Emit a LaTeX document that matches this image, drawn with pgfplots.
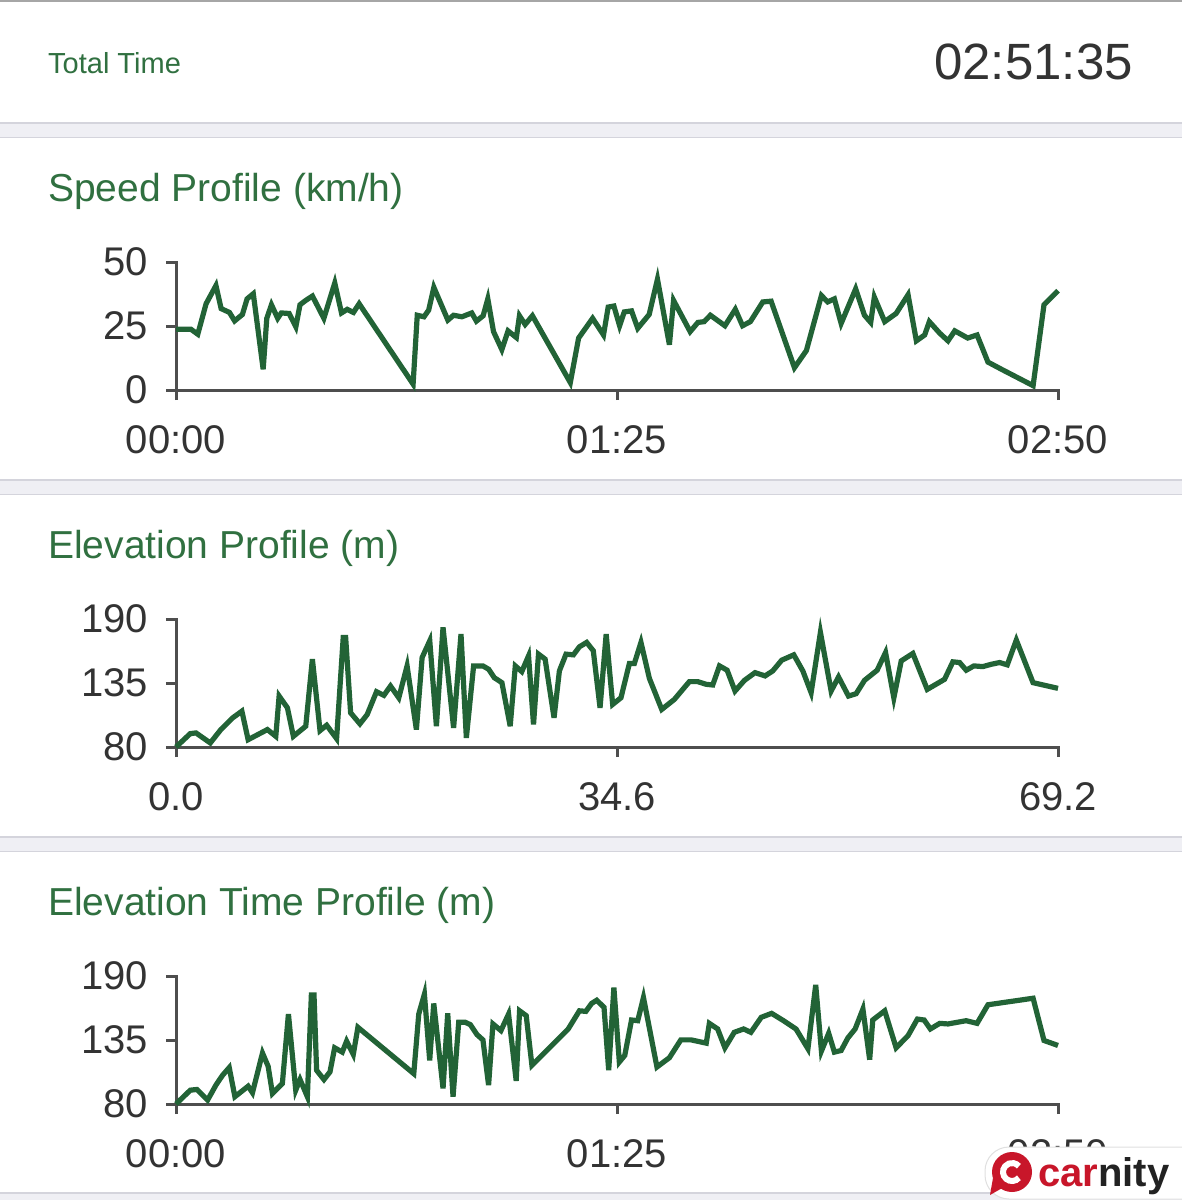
\documentclass[border=0pt]{standalone}
\usepackage{fontspec}
\setmainfont{Liberation Sans}
\usepackage{pgfplots}
\pgfplotsset{compat=1.18}
\definecolor{linegreen}{RGB}{34,99,54}
\definecolor{titlegreen}{RGB}{48,112,64}
\definecolor{axisgray}{RGB}{78,78,78}
\definecolor{labelgray}{RGB}{51,51,51}
\definecolor{band}{RGB}{239,239,244}
\definecolor{bandline}{RGB}{212,212,220}
\definecolor{logored}{RGB}{200,22,42}
\definecolor{logodark}{RGB}{34,34,34}
\pgfplotsset{
  prof/.style={
    scale only axis, width=882pt, height=128pt,
    axis x line*=bottom, axis y line*=left,
    axis line style={draw=axisgray, line width=3pt, line cap=rect},
    every tick/.style={draw=axisgray, line width=3pt},
    major tick length=10pt,
    tick align=outside,
    xtick pos=bottom, ytick pos=left,
    clip=false,
    xticklabel style={font=\fontsize{40}{40}\selectfont, text=labelgray, inner sep=0pt, anchor=north, yshift=-25pt},
    yticklabel style={font=\fontsize{40}{40}\selectfont, text=labelgray, inner sep=0pt, anchor=east, xshift=-18pt},
  },
  prof line/.style={color=linegreen, line width=5.2pt, miter limit=7, no markers},
}
\begin{document}
\begin{tikzpicture}
\begin{scope}[x=1pt,y=-1pt]
\fill[white] (0,0) rectangle (1182,1200);
\fill[gray!70] (0,0) rectangle (1182,2);
% separator bands
\foreach \a/\b in {123/137, 480/494, 837/851, 1193/1200}{
  \fill[band] (0,\a) rectangle (1182,\b);
  \draw[bandline, line width=1.5pt] (0,\a) -- (1182,\a);
  \draw[bandline, line width=1pt] (0,\b) -- (1182,\b);
}
\node[anchor=base west, inner sep=0pt, text=titlegreen, font=\fontsize{29}{30}\selectfont] at (48,73) {Total Time};
\node[anchor=base east, inner sep=0pt, text=labelgray, font=\fontsize{51}{52}\selectfont] at (1133,79) {02:51:35};
\node[anchor=base west, inner sep=0pt, text=titlegreen, font=\fontsize{39}{40}\selectfont] at (48,201) {Speed Profile (km/h)};
\node[anchor=base west, inner sep=0pt, text=titlegreen, font=\fontsize{39}{40}\selectfont] at (48,558) {Elevation Profile (m)};
\node[anchor=base west, inner sep=0pt, text=titlegreen, font=\fontsize{39}{40}\selectfont] at (48,915) {Elevation Time Profile (m)};
\end{scope}

% Speed profile
\begin{axis}[prof, at={(176pt,-390pt)}, anchor=south west,
  xmin=0, xmax=170, ymin=0, ymax=50,
  xtick={0,85,170}, xticklabels={00:00,01:25,02:50},
  ytick={0,25,50}, yticklabels={0,25,50}]
\addplot[prof line] coordinates {
(0,23.7) (2.9,23.7) (4.2,21.8) (5.8,33.7) (7.7,40.8) (8.7,31.8) (10.3,30.3) (11.3,27) (12.8,29.5) (13.7,35.6) (14.9,37.6) (16.8,8.1) (17.5,28) (18.4,33.3) (19.6,28) (20.3,30.1) (21.8,29.9) (23.1,24.7) (23.9,33.3) (25.0,35) (26.3,36.7) (28.5,28) (30.6,41.8) (31.9,30.1) (33.0,31.5) (34.2,30.3) (35.3,33.7) (45.7,2.3) (46.5,29.2) (47.8,28.6) (48.7,31.2) (49.7,40.1) (52.4,27.3) (53.5,29.2) (55.1,28.6) (57.0,30.1) (57.9,26.9) (59.2,29) (60.1,35.6) (61.2,22.8) (62.8,15.8) (64.0,23.1) (65.6,20.5) (66.2,29) (67.3,25.6) (68.7,29) (76.0,2.9) (77.6,20.3) (80.3,28) (82.4,21.5) (83.3,32.4) (84.4,32.8) (85.5,25.1) (86.4,30.5) (87.8,30.9) (89.0,24.1) (91.2,29.5) (92.8,43.3) (95.1,17.7) (95.9,35) (99.1,22.8) (100.6,26.4) (101.8,26.7) (103.0,29.2) (104.3,27.3) (105.8,25.1) (107.8,31.5) (109.2,25.1) (110.7,26.7) (113.1,34.4) (114.7,34.7) (119.2,8.7) (121.5,15.4) (124.4,36.9) (125.6,34.4) (126.9,35.6) (128.2,26) (131.0,39.5) (132.7,29.2) (133.9,26.4) (134.6,36.3) (136.6,26.7) (138.8,29.9) (141.1,37.2) (142.7,19.2) (144.3,21.5) (145.2,26.7) (147.2,22.2) (148.8,19.2) (150.1,23.1) (152.6,20.3) (154.4,21.5) (156.5,10.9) (159.1,8.1) (165.2,1.7) (167.3,33.3) (170,38.8)
};
\end{axis}

% Elevation profile
\begin{axis}[prof, at={(176pt,-747pt)}, anchor=south west,
  xmin=0, xmax=69.2, ymin=80, ymax=190,
  xtick={0,34.6,69.2}, xticklabels={0.0,34.6,69.2},
  ytick={80,135,190}, yticklabels={80,135,190}]
\addplot[prof line] coordinates {
(0,80) (1.12,91.5) (1.57,92.1) (2.69,83.5) (3.52,95) (4.44,105) (5.17,110.8) (5.66,86.3) (7.17,95) (7.83,89.2) (8.09,123.8) (8.74,113.7) (9.21,89.2) (10.18,97.9) (10.70,155.5) (11.30,94.1) (11.82,98.7) (12.60,87.2) (13.12,174.2) (13.31,174.2) (13.70,109.4) (14.43,99.9) (15.0,107.9) (15.73,127.5) (16.31,124.4) (16.83,132.4) (17.48,122.3) (18.13,149.7) (18.86,95) (19.31,156.9) (19.91,171.3) (20.43,97.9) (20.95,182.8) (21.78,96.4) (22.36,177.1) (22.78,87.8) (23.35,149.7) (24.08,149.7) (24.53,146.8) (24.97,139.6) (25.57,135.3) (26.22,97.9) (26.62,149.7) (27.13,144.8) (27.66,158.3) (28.05,99.3) (28.44,159.8) (28.96,155.5) (29.66,105.1) (30.08,145.4) (30.6,159.8) (31.18,159.2) (31.65,166.1) (32.22,169.9) (32.74,162.7) (33.27,113.7) (33.75,177.1) (34.26,116.6) (34.91,122.3) (35.57,151.7) (35.96,151.7) (36.48,169.9) (37.14,139) (38.11,112.3) (39.1,120.9) (39.76,129.5) (40.28,136.2) (40.93,136.2) (41.59,133.9) (42.11,133.3) (42.64,149.7) (43.24,146) (43.86,128.1) (44.6,137.3) (45.43,143.9) (46.22,141.1) (46.82,145.4) (47.52,154.6) (48.47,159.2) (49.18,145.4) (49.83,126.7) (50.56,178.5) (51.4,128.1) (51.98,140.2) (52.76,123.8) (53.36,125.8) (54.02,137.3) (55.01,146) (55.67,161.2) (56.32,122.3) (56.9,154) (57.81,160.4) (58.94,129.5) (60.3,138.2) (60.95,153.2) (61.48,152.6) (62.0,146) (62.6,149.7) (63.3,149.1) (63.97,151.1) (64.62,152.6) (65.22,150.6) (65.93,171.9) (67.24,135.3) (69.2,130.4)
};
\end{axis}

% Elevation time profile
\begin{axis}[prof, at={(176pt,-1104pt)}, anchor=south west,
  xmin=0, xmax=170, ymin=80, ymax=190,
  xtick={0,85,170}, xticklabels={00:00,01:25,02:50},
  ytick={80,135,190}, yticklabels={80,135,190}]
\addplot[prof line] coordinates {
(0,80) (2.76,91.9) (4.04,92.5) (6.09,83.4) (7.69,96.2) (8.97,104.7) (10.26,111.3) (11.35,86.3) (13.91,95.3) (14.74,89.7) (16.67,123.8) (17.76,112.4) (18.59,89.1) (20.5,97.6) (21.67,157.3) (23.08,91.9) (23.91,101) (25.32,86.3) (26.09,173.8) (26.6,173.8) (27.1,109) (28.52,101) (29.68,107.6) (30.58,128.3) (32.05,124.6) (32.88,134) (34.17,122.6) (35.06,145.9) (45.83,106.1) (46.79,157.3) (47.88,174.4) (48.9,117.5) (49.68,166.4) (51.47,93.4) (52.37,157.9) (53.4,86.3) (54.49,150.2) (55.77,150.2) (56.73,148.2) (58.0,139.7) (59.16,135.1) (60.25,96.2) (61.09,148.8) (62.63,143.1) (64.1,157.3) (65.57,99.9) (66.22,160.1) (67.5,155.9) (68.6,113.3) (75.6,144.5) (77.75,160.1) (79.0,159.6) (80.1,166.4) (81.1,169.2) (82.5,163) (83.4,109) (84.4,180) (85.45,116.1) (86.5,121.8) (87.8,152.2) (89.0,151.6) (90.1,171.5) (92.7,111.8) (95.1,119.8) (97.3,135.1) (99.3,135.1) (102.2,132.3) (102.8,149.3) (104.4,144.5) (105.8,128.3) (107.6,141.6) (109.4,144.5) (110.8,141.6) (112.8,154.5) (114.8,157.9) (117.1,151.6) (119.5,144.5) (121.8,127.5) (123.3,182.3) (124.4,125.5) (125.8,140.8) (126.9,124.6) (128.2,126) (129.5,136.8) (130.9,144.5) (132.4,161.6) (133.7,118.1) (134.3,152.2) (136.6,160.1) (138.8,128.3) (141.1,138.8) (142.9,153) (144.2,152.2) (145.4,144.5) (147.2,149.3) (148.8,148.8) (152.3,151.6) (154.4,149.3) (156.5,165.3) (165.2,170.9) (167.3,134.6) (170,130.3)
};
\end{axis}

% logo
\begin{scope}[x=1pt,y=-1pt]
\fill[white, draw=black!12, line width=1pt, rounded corners=24pt] (985,1147) rectangle (1215,1199);
\fill[logored] (1012,1172) circle (20);
\fill[logored] (993,1178) -- (990,1195) -- (1004,1187) -- cycle;
\draw[white, line width=6pt] (1012,1172) ++(40:9) arc (40:320:9);
\fill[logored] (1014,1172) circle (3);
\node[anchor=base west, inner sep=0pt, font=\bfseries\fontsize{40}{40}\selectfont] at (1038,1186) {\textcolor{logored}{car}\textcolor{logodark}{nity}};
\pgfresetboundingbox
\path[use as bounding box] (0,0) rectangle (1182,1200);
\end{scope}
\end{tikzpicture}
\end{document}
